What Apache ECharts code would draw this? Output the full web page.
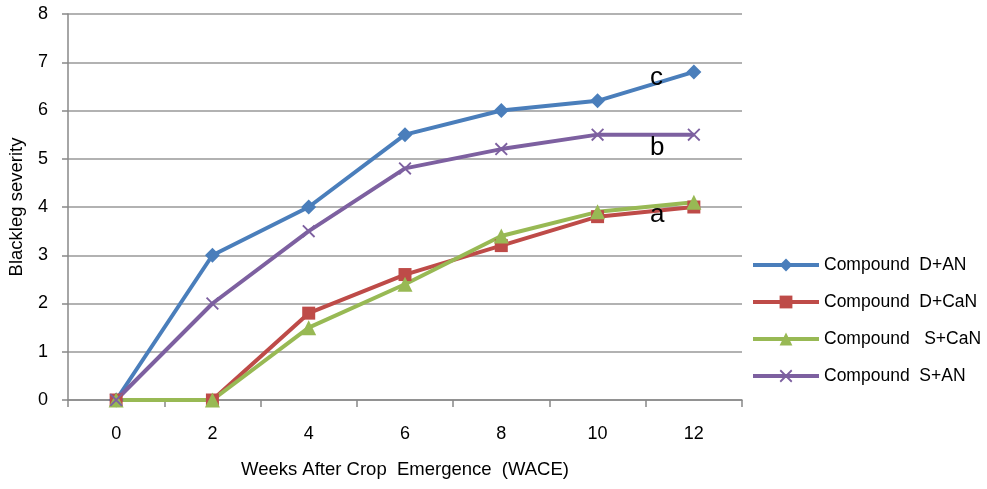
<!DOCTYPE html>
<html>
<head>
<meta charset="utf-8">
<script src="https://cdn.jsdelivr.net/npm/echarts@6/dist/echarts.min.js"></script>
<style>
  html, body { margin: 0; padding: 0; background: #fff; }
  #chart { width: 987px; height: 489px; }
</style>
</head>
<body>
<div id="chart"></div>
<script>
// Weeks after crop emergence (category axis)
const weeks = ['0', '2', '4', '6', '8', '10', '12'];

// Blackleg severity per treatment
const compoundDAN  = [0, 3.0, 4.0, 5.5, 6.0, 6.2, 6.8];
const compoundDCaN = [0, 0, 1.8, 2.6, 3.2, 3.8, 4.0];
const compoundSCaN = [0, 0, 1.5, 2.4, 3.4, 3.9, 4.1];
const compoundSAN  = [0, 2.0, 3.5, 4.8, 5.2, 5.5, 5.5];

const seriesNames = ['Compound  D+AN', 'Compound  D+CaN', 'Compound   S+CaN', 'Compound  S+AN'];
const seriesColors = ['#4A7EBB', '#BE4B48', '#98B954', '#7D60A0'];

// Significance letters
const groupLetters = [
  { text: 'c', x: 658, y: 80 },
  { text: 'b', x: 658, y: 150 },
  { text: 'a', x: 658, y: 217 }
];

const crossSymbol = 'path://M0,1L1,0L10,9L9,10Z M9,0L10,1L1,10L0,9Z';
const FONT = '"Liberation Sans", Arial, sans-serif';

function makeSeries(name, data, color, symbol, size) {
  return {
    name: name,
    type: 'line',
    data: data,
    symbol: symbol,
    symbolSize: size,
    showAllSymbol: true,
    lineStyle: { color: color, width: 4 },
    itemStyle: { color: color },
    emphasis: { disabled: true },
    z: 3
  };
}

const chart = echarts.init(document.getElementById('chart'), null, { renderer: 'canvas' });

chart.setOption({
  animation: false,
  backgroundColor: '#ffffff',
  grid: { left: 68, right: 245, top: 14, bottom: 89, containLabel: false, outerBoundsMode: 'none' },
  legend: {
    orient: 'vertical',
    left: 746,
    top: 251,
    padding: 5,
    itemWidth: 66,
    itemHeight: 16,
    itemGap: 19,
    lineStyle: { width: 4 },
    textStyle: { fontFamily: FONT, fontSize: 17.5, color: '#000' },
    data: seriesNames
  },
  xAxis: {
    type: 'category',
    data: weeks,
    boundaryGap: true,
    name: 'Weeks After Crop  Emergence  (WACE)',
    nameLocation: 'middle',
    nameGap: 60,
    nameTextStyle: { fontFamily: FONT, fontSize: 18.5, color: '#000' },
    axisLine: { lineStyle: { color: '#888', width: 1.5 } },
    axisTick: { show: true, length: 7, alignWithLabel: false, lineStyle: { color: '#888', width: 1.5 } },
    axisLabel: { fontFamily: FONT, fontSize: 18, color: '#000', margin: 25 },
    splitLine: { show: false }
  },
  yAxis: {
    type: 'value',
    min: 0,
    max: 8,
    interval: 1,
    name: 'Blackleg severity',
    nameLocation: 'middle',
    nameRotate: 90,
    nameGap: 42,
    nameTextStyle: { fontFamily: FONT, fontSize: 18.5, color: '#000' },
    axisLine: { show: true, lineStyle: { color: '#888', width: 1.5 } },
    axisTick: { show: true, length: 6, inside: false, lineStyle: { color: '#888', width: 1.5 } },
    axisLabel: { fontFamily: FONT, fontSize: 18, color: '#000', margin: 20 },
    splitLine: { show: true, lineStyle: { color: '#999', width: 1.5 } }
  },
  series: [
    makeSeries(seriesNames[0], compoundDAN, seriesColors[0], 'diamond', 15),
    makeSeries(seriesNames[1], compoundDCaN, seriesColors[1], 'rect', 13),
    makeSeries(seriesNames[2], compoundSCaN, seriesColors[2], 'triangle', 15),
    makeSeries(seriesNames[3], compoundSAN, seriesColors[3], crossSymbol, 13)
  ],
  graphic: groupLetters.map(function (g) {
    return {
      type: 'text',
      left: g.x - 8,
      top: g.y - 15,
      z: 10,
      style: { text: g.text, font: '26px ' + FONT, fill: '#000' }
    };
  })
});
</script>
</body>
</html>
